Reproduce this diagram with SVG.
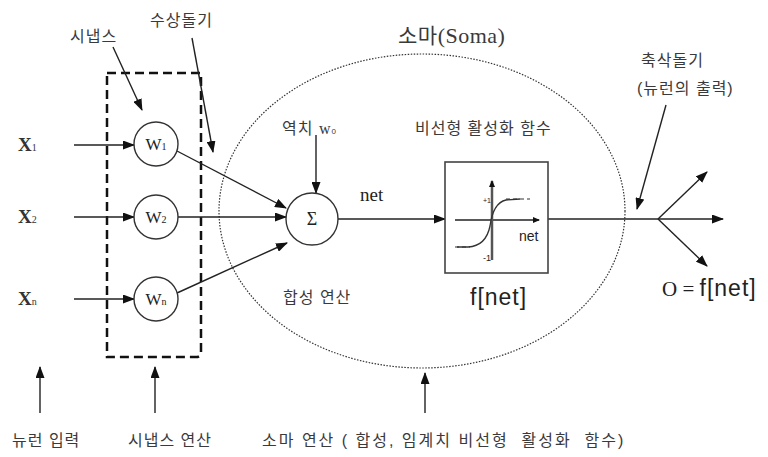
<svg xmlns="http://www.w3.org/2000/svg" width="768" height="457" viewBox="0 0 768 457">
<style>
.ko{font-family:"Liberation Sans","Noto Sans CJK KR",sans-serif;font-size:16px;letter-spacing:1px;fill:#3a3a3a}
.sr{font-family:"Liberation Serif",serif;fill:#222}
.sn{font-family:"Liberation Sans",sans-serif;fill:#222}
.ln{stroke:#222;stroke-width:1.4;fill:none}
.nd{fill:#fff;stroke:#333;stroke-width:1.4}
</style>
<defs>
<marker id="ah" markerWidth="12" markerHeight="9" refX="11" refY="4.5" orient="auto" markerUnits="userSpaceOnUse"><path d="M0,0 L12,4.5 L0,9 Z" fill="#111"/></marker>
<marker id="as" markerWidth="7" markerHeight="6" refX="6" refY="3" orient="auto" markerUnits="userSpaceOnUse"><path d="M0,0 L7,3 L0,6 Z" fill="#111"/></marker>
</defs>
<rect width="768" height="457" fill="#fff"/>
<g id="soma">
<ellipse cx="422" cy="211" rx="203" ry="157" fill="none" stroke="#333" stroke-width="1.2" stroke-dasharray="1.5,1.5"/>
<text x="398" y="43" class="ko" style="font-size:21px;letter-spacing:0.5px">소마<tspan style="font-family:'Liberation Serif',serif;font-size:22px">(Soma)</tspan></text>
</g>
<g id="synapse-box">
<path d="M107,73 H201 V352 Q201,357 196,357 H107 Z" fill="none" stroke="#111" stroke-width="2.5" stroke-dasharray="9,5"/>
</g>
<g id="connectors">
<line x1="74" y1="145" x2="134" y2="145" class="ln" marker-end="url(#ah)"/>
<line x1="74" y1="217" x2="134" y2="217" class="ln" marker-end="url(#ah)"/>
<line x1="74" y1="299" x2="134" y2="299" class="ln" marker-end="url(#ah)"/>
<line x1="177" y1="151" x2="286" y2="208" class="ln" marker-end="url(#ah)"/>
<line x1="178" y1="217" x2="286" y2="217" class="ln" marker-end="url(#ah)"/>
<line x1="177" y1="293" x2="287" y2="243" class="ln" marker-end="url(#ah)"/>
<line x1="316" y1="135" x2="316" y2="193" class="ln" marker-end="url(#ah)"/>
<line x1="338" y1="219" x2="445" y2="219" class="ln" marker-end="url(#ah)"/>
<line x1="548" y1="219" x2="658" y2="219" class="ln"/>
<line x1="658" y1="219" x2="723" y2="219" class="ln" marker-end="url(#ah)"/>
<line x1="658" y1="219" x2="707" y2="172" class="ln" marker-end="url(#ah)"/>
<line x1="658" y1="219" x2="707" y2="266" class="ln" marker-end="url(#ah)"/>
<line x1="113" y1="47" x2="142" y2="110" class="ln" marker-end="url(#ah)"/>
<line x1="192" y1="38" x2="213" y2="152" class="ln" marker-end="url(#ah)"/>
<line x1="666" y1="105" x2="637" y2="209" class="ln" marker-end="url(#ah)"/>
<line x1="40" y1="413" x2="40" y2="367" class="ln" marker-end="url(#ah)"/>
<line x1="155" y1="413" x2="155" y2="367" class="ln" marker-end="url(#ah)"/>
<line x1="425" y1="413" x2="425" y2="373" class="ln" marker-end="url(#ah)"/>
</g>
<g id="x1"><text x="18" y="151" class="sr" style="font-size:19px;font-weight:bold;fill:#333">X<tspan font-size="10" font-weight="normal">1</tspan></text></g>
<g id="x2"><text x="18" y="223" class="sr" style="font-size:19px;font-weight:bold;fill:#333">X<tspan font-size="10" font-weight="normal">2</tspan></text></g>
<g id="xn"><text x="18" y="305" class="sr" style="font-size:19px;font-weight:bold;fill:#333">X<tspan font-size="10" font-weight="normal">n</tspan></text></g>
<g id="w1"><circle cx="156" cy="144" r="22" class="nd"/><text x="156" y="150" class="sr" text-anchor="middle" style="font-size:17px">W<tspan font-size="10">1</tspan></text></g>
<g id="w2"><circle cx="156" cy="217" r="22" class="nd"/><text x="156" y="223" class="sr" text-anchor="middle" style="font-size:17px">W<tspan font-size="10">2</tspan></text></g>
<g id="wn"><circle cx="156" cy="299" r="22" class="nd"/><text x="156" y="305" class="sr" text-anchor="middle" style="font-size:17px">W<tspan font-size="10">n</tspan></text></g>
<g id="sigma"><circle cx="312" cy="219" r="26" class="nd"/><text x="312" y="225" class="sr" text-anchor="middle" style="font-size:18px">Σ</text></g>
<g id="activation">
<rect x="445" y="162" width="103" height="111" fill="#fff" stroke="#444" stroke-width="1.6"/>
<line x1="455" y1="220" x2="539" y2="220" stroke="#222" stroke-width="1.3" marker-end="url(#as)"/>
<line x1="492" y1="260" x2="492" y2="181" stroke="#555" stroke-width="2.5" marker-end="url(#as)"/>
<path d="M457,247 L468,247 Q486,246 490,226 Q493,203 506,200 L520,199" fill="none" stroke="#333" stroke-width="1.3"/>
<line x1="506" y1="199" x2="530" y2="199" stroke="#333" stroke-width="1.2" stroke-dasharray="4,3"/>
<line x1="455" y1="247" x2="470" y2="247" stroke="#333" stroke-width="1.2" stroke-dasharray="4,3"/>
<text x="483" y="203" class="sn" style="font-size:7px">+1</text>
<text x="483" y="261" class="sn" style="font-size:9px">-1</text>
<text x="519" y="241" class="sn" style="font-size:14px">net</text>
</g>
<g id="labels">
<text x="70" y="42" class="ko">시냅스</text>
<text x="150" y="26" class="ko">수상돌기</text>
<text x="282" y="134" class="ko">역치 <tspan style="font-family:'Liberation Serif',serif">w</tspan><tspan font-size="8">0</tspan></text>
<text x="415" y="134" class="ko">비선형 활성화 함수</text>
<text x="360" y="201" class="sr" style="font-size:19px">net</text>
<text x="283" y="303" class="ko">합성 연산</text>
<text x="470" y="305" class="sn" style="font-size:23px;letter-spacing:1px">f[net]</text>
<text x="641" y="66" class="ko">축삭돌기</text>
<text x="637" y="94" class="ko">(뉴런의 출력)</text>
<text x="662" y="296" class="sr" style="font-size:21px">O = <tspan style="font-family:'Liberation Sans',sans-serif;font-size:23px;letter-spacing:1px">f[net]</tspan></text>
<text x="12" y="446" class="ko">뉴런 입력</text>
<text x="128" y="446" class="ko">시냅스 연산</text>
<text x="262" y="446" class="ko" xml:space="preserve" style="letter-spacing:2px;white-space:pre">소마 연산 ( 합성, 임계치 비선형  활성화  함수)</text>
</g>
</svg>
